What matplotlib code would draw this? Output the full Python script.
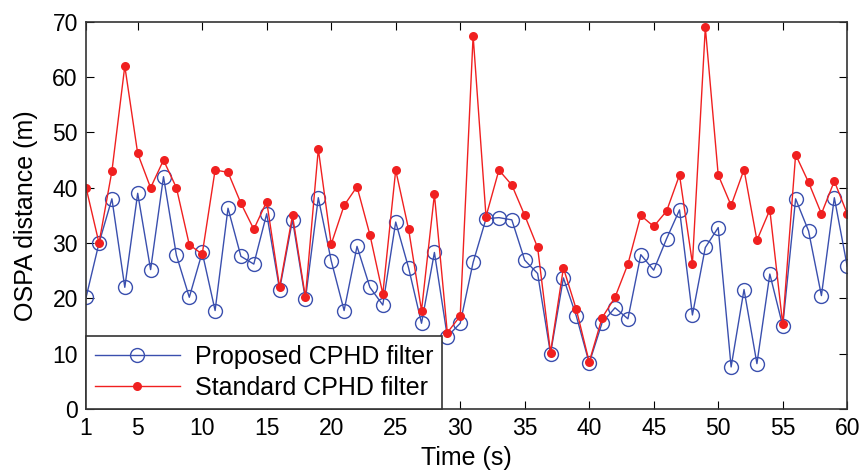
"""OSPA distance comparison: proposed vs standard CPHD filter."""

import matplotlib

matplotlib.use("Agg")
import matplotlib.pyplot as plt
import numpy as np

plt.rcParams["font.family"] = ["Liberation Sans", "DejaVu Sans"]

time_s = np.arange(1, 61)

proposed = [
    20.2, 30.0, 38.0, 22.0, 39.0, 25.2, 42.0, 27.8, 20.2, 28.3,
    17.8, 36.3, 27.6, 26.2, 35.3, 21.6, 34.2, 19.8, 38.2, 26.8,
    17.8, 29.4, 22.0, 18.8, 33.8, 25.5, 15.5, 28.3, 13.1, 15.5,
    26.5, 34.4, 34.6, 34.2, 26.9, 24.5, 10.0, 23.7, 16.8, 8.3,
    15.6, 18.3, 16.3, 27.9, 25.1, 30.8, 36.0, 17.0, 29.2, 32.8,
    7.6, 21.6, 8.2, 24.4, 15.0, 38.0, 32.2, 20.5, 38.2, 25.8,
]

standard = [
    40.0, 30.0, 43.0, 62.0, 46.2, 40.0, 45.0, 40.0, 29.7, 28.0,
    43.2, 42.8, 37.2, 32.5, 37.5, 22.0, 35.0, 20.2, 47.0, 29.8,
    36.8, 40.2, 31.5, 20.8, 43.2, 32.5, 17.8, 38.8, 13.8, 16.8,
    67.5, 34.8, 43.2, 40.5, 35.0, 29.2, 10.2, 25.5, 18.0, 8.5,
    16.5, 20.2, 26.2, 35.0, 33.0, 35.8, 42.3, 26.3, 69.0, 42.3,
    36.8, 43.3, 30.5, 36.0, 15.3, 46.0, 41.0, 35.3, 41.2, 35.3,
]

x_ticks = [1, 5, 10, 15, 20, 25, 30, 35, 40, 45, 50, 55, 60]
y_ticks = [0, 10, 20, 30, 40, 50, 60, 70]

fig = plt.figure(figsize=(8.61, 4.75), dpi=100)
ax = fig.add_axes([0.1, 0.139, 0.884, 0.815])

ax.plot(time_s, proposed, "-o", color="#3a4fae", linewidth=1.0,
        markersize=10, markerfacecolor="none", markeredgewidth=1.0,
        label="Proposed CPHD filter")
ax.plot(time_s, standard, "-o", color="#f02020", linewidth=1.0,
        markersize=6.5, markerfacecolor="#f02020", markeredgewidth=0,
        label="Standard CPHD filter")

ax.set_xlim(1, 60)
ax.set_ylim(0, 70)
ax.set_xticks(x_ticks)
ax.set_yticks(y_ticks)
ax.tick_params(direction="in", top=True, right=True, labelsize=16.5, length=6, pad=6)
for s in ax.spines.values():
    s.set_linewidth(1.2)
    s.set_color("#333333")

ax.set_xlabel("Time (s)", fontsize=18, labelpad=4)
ax.set_ylabel("OSPA distance (m)", fontsize=18, labelpad=10)

leg = ax.legend(loc="lower left", borderaxespad=0, fontsize=18,
                fancybox=False, framealpha=1, edgecolor="#333333",
                handlelength=3.4, handletextpad=0.6, borderpad=0.35,
                labelspacing=0.3)
leg.get_frame().set_linewidth(1.2)

fig.savefig("out.png", dpi=100)
